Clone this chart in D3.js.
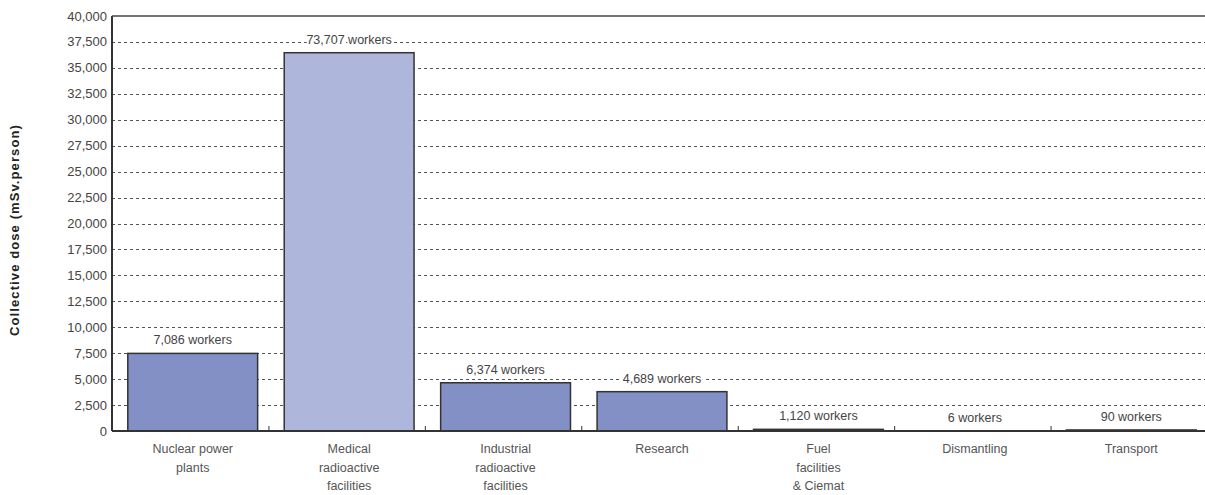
<!DOCTYPE html>
<html>
<head>
<meta charset="utf-8">
<script src="https://cdn.jsdelivr.net/npm/d3@7"></script>
<style>
  body { margin: 0; background: #fff; }
  svg { display: block; }
  text { font-family: "Liberation Sans", Arial, sans-serif; }
</style>
</head>
<body>
<script>
// Data
var categories = [
  ['Nuclear power', 'plants'],
  ['Medical', 'radioactive', 'facilities'],
  ['Industrial', 'radioactive', 'facilities'],
  ['Research'],
  ['Fuel', 'facilities', '& Ciemat'],
  ['Dismantling'],
  ['Transport']
];
var doses = [7480, 36460, 4650, 3790, 160, 4, 100];
var workerLabels = ['7,086 workers', '73,707 workers', '6,374 workers', '4,689 workers',
  '1,120 workers', '6 workers', '90 workers'];
var yTicks = [0, 2500, 5000, 7500, 10000, 12500, 15000, 17500, 20000, 22500, 25000,
  27500, 30000, 32500, 35000, 37500, 40000];
var Y_TITLE = 'Collective dose (mSv.person)';

// Layout
var WIDTH = 1205;
var HEIGHT = 495;
var LEFT = 112;
var RIGHT = 1207;
var TOP = 16;
var BOTTOM = 431;
var BAR_COLOR = '#8390c6';
var HIGHLIGHT_COLOR = '#afb6db';

var svg = d3.select('body').append('svg')
  .attr('width', WIDTH)
  .attr('height', HEIGHT);

var x = d3.scaleBand()
  .domain(d3.range(categories.length))
  .range([LEFT, RIGHT])
  .paddingInner(0.17)
  .paddingOuter(0.085);

var y = d3.scaleLinear()
  .domain([0, 40000])
  .range([BOTTOM, TOP]);

var step = x.step();
var gap = step * 0.085;

// grid
svg.append('g')
  .selectAll('line')
  .data(yTicks.filter(function (d) { return d > 0 && d < 40000; }))
  .join('line')
  .attr('x1', LEFT)
  .attr('x2', WIDTH)
  .attr('y1', function (d) { return Math.round(y(d)) + 0.5; })
  .attr('y2', function (d) { return Math.round(y(d)) + 0.5; })
  .attr('stroke', '#555')
  .attr('stroke-width', 1)
  .attr('stroke-dasharray', '3,3');

// bars
svg.append('g')
  .selectAll('rect')
  .data(doses)
  .join('rect')
  .attr('x', function (d, i) { return x(i) + 2.5; })
  .attr('y', function (d) { return y(d); })
  .attr('width', x.bandwidth())
  .attr('height', function (d) { return BOTTOM - y(d); })
  .attr('fill', function (d, i) { return i === 1 ? HIGHLIGHT_COLOR : BAR_COLOR; })
  .attr('stroke', '#333')
  .attr('stroke-width', 1.5);

// worker labels (white halo breaks the grid like the original)
svg.append('g')
  .selectAll('text')
  .data(doses)
  .join('text')
  .attr('x', function (d, i) { return x(i) + 2.5 + x.bandwidth() / 2; })
  .attr('y', function (d) { return y(d) - 9; })
  .attr('text-anchor', 'middle')
  .attr('font-size', 12.5)
  .attr('fill', '#444')
  .attr('stroke', '#fff')
  .attr('stroke-width', 4)
  .attr('paint-order', 'stroke')
  .text(function (d, i) { return workerLabels[i]; });

// frame: left axis, top line, baseline
svg.append('line')
  .attr('x1', LEFT).attr('x2', LEFT)
  .attr('y1', TOP).attr('y2', BOTTOM)
  .attr('stroke', '#333').attr('stroke-width', 2);
svg.append('line')
  .attr('x1', LEFT).attr('x2', WIDTH)
  .attr('y1', TOP).attr('y2', TOP)
  .attr('stroke', '#444').attr('stroke-width', 1.5);
svg.append('line')
  .attr('x1', LEFT).attr('x2', WIDTH)
  .attr('y1', BOTTOM).attr('y2', BOTTOM)
  .attr('stroke', '#333').attr('stroke-width', 2);

// category separators
svg.append('g')
  .selectAll('line')
  .data(d3.range(1, categories.length))
  .join('line')
  .attr('x1', function (i) { return x(i) - gap + 0.5; })
  .attr('x2', function (i) { return x(i) - gap + 0.5; })
  .attr('y1', BOTTOM)
  .attr('y2', BOTTOM - 5)
  .attr('stroke', '#333')
  .attr('stroke-width', 1);

// y tick labels
svg.append('g')
  .selectAll('text')
  .data(yTicks)
  .join('text')
  .attr('x', LEFT - 5)
  .attr('y', function (d) { return y(d) + 4.5; })
  .attr('text-anchor', 'end')
  .attr('font-size', 13)
  .attr('fill', '#444')
  .text(d3.format(','));

// category labels
var catLabels = svg.append('g')
  .selectAll('text')
  .data(categories)
  .join('text')
  .attr('text-anchor', 'middle')
  .attr('font-size', 12.5)
  .attr('fill', '#555');

catLabels.selectAll('tspan')
  .data(function (d, i) { return d.map(function (line) { return { line: line, i: i }; }); })
  .join('tspan')
  .attr('x', function (d) { return x(d.i) + 2.5 + x.bandwidth() / 2; })
  .attr('y', function (d, j) { return 453 + j * 18.5; })
  .text(function (d) { return d.line; });

// y title
svg.append('text')
  .attr('transform', 'translate(19,230) rotate(-90)')
  .attr('text-anchor', 'middle')
  .attr('font-weight', 'bold')
  .attr('font-size', 13)
  .attr('letter-spacing', 1.1)
  .attr('fill', '#222')
  .text(Y_TITLE);
</script>
</body>
</html>
